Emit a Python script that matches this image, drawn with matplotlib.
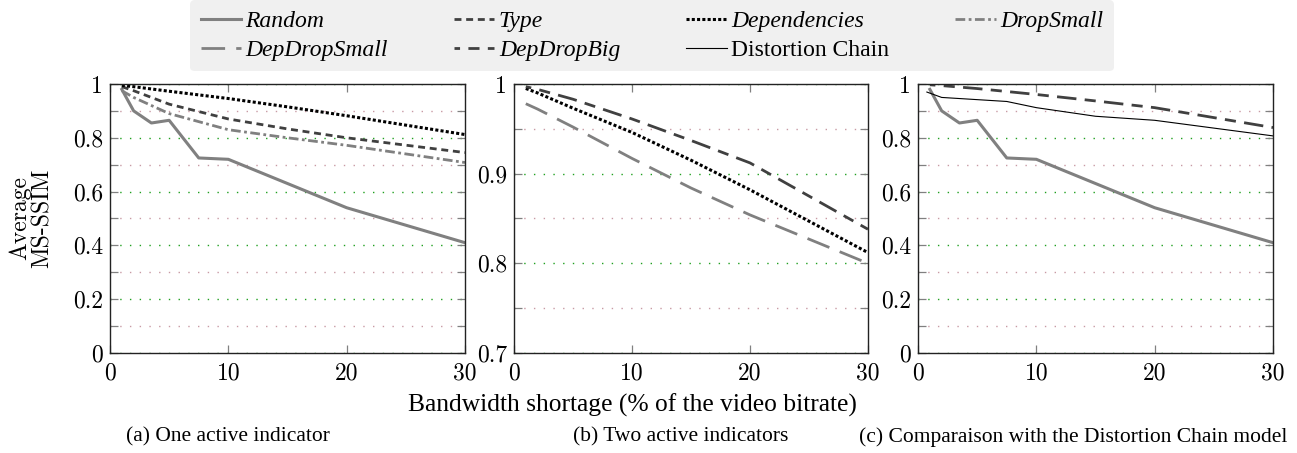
import matplotlib
matplotlib.use('Agg')
from matplotlib import pyplot as plt

plt.rcParams['lines.scale_dashes'] = False

# data
x_random = [1, 2, 3.5, 5, 7.5, 10, 15, 20, 30]
random_ssim = [0.98, 0.90, 0.855, 0.865, 0.725, 0.72, 0.63, 0.54, 0.41]

x_ind = [1, 2, 5, 10, 15, 20, 30]
type_ssim = [0.99, 0.975, 0.925, 0.87, 0.833, 0.80, 0.745]
dep_ssim = [0.995, 0.99, 0.973, 0.946, 0.915, 0.882, 0.812]
dropsmall_ssim = [0.975, 0.95, 0.89, 0.83, 0.80, 0.772, 0.708]
depdropsmall_ssim = [0.978, 0.972, 0.952, 0.917, 0.884, 0.854, 0.800]
depdropbig_ssim = [0.997, 0.994, 0.983, 0.961, 0.937, 0.912, 0.838]

x_dc = [0.75, 2, 7.5, 10, 15, 20, 30]
dc_ssim = [0.97, 0.95, 0.935, 0.912, 0.88, 0.865, 0.807]

xticks = [0, 10, 20, 30]
xtick_labels = ['0', '10', '20', '30']
yticks_full = [0, 0.2, 0.4, 0.6, 0.8, 1.0]
ytick_labels_full = ['0', '0.2', '0.4', '0.6', '0.8', '1']
yminor_full = [0.1, 0.3, 0.5, 0.7, 0.9]
yticks_zoom = [0.7, 0.8, 0.9, 1.0]
ytick_labels_zoom = ['0.7', '0.8', '0.9', '1']
yminor_zoom = [0.75, 0.85, 0.95]

captions = ['(a) One active indicator', '(b) Two active indicators',
            '(c) Comparaison with the Distortion Chain model']

# line styles
gray = '#808080'
dark = '#404040'
st_random = dict(color=gray, lw=2.2, ls='-')
st_type = dict(color=dark, lw=2.0, ls=(0, (5, 3.4)))
st_dep = dict(color='black', lw=2.2, ls=(0, (2.2, 1.6)))
st_dropsmall = dict(color=gray, lw=2.0, ls=(0, (7, 2.5, 2, 2.5)))
st_depdropsmall = dict(color=gray, lw=2.0, ls=(0, (17, 8)))
st_depdropbig = dict(color=dark, lw=2.0, ls=(10, (14, 6, 8, 6)))
st_dc = dict(color='black', lw=0.8, ls='-')

fig = plt.figure(figsize=(12.97, 4.53), dpi=100)
bottom, height = 0.2208, 0.5938
ax_a = fig.add_axes([0.0848, bottom, 0.2737, height])
ax_b = fig.add_axes([0.3963, bottom, 0.2729, height])
ax_c = fig.add_axes([0.7078, bottom, 0.2737, height])


def style_axis(ax, yt, ylab, ymin_t):
    ax.set_xlim(0, 30)
    ax.set_ylim(yt[0], yt[-1])
    ax.set_xticks(xticks, xtick_labels, fontfamily='cmr10', fontsize=17)
    ax.set_yticks(yt, ylab, fontfamily='cmr10', fontsize=17)
    ax.set_yticks(ymin_t, minor=True)
    ax.set_axisbelow(True)
    ax.grid(which='major', axis='y', color='#20a020', lw=1.0, ls=(0, (1.0, 6)))
    ax.grid(which='minor', axis='y', color='#c89aa4', lw=1.0, ls=(0, (1.0, 6)))
    ax.tick_params(which='both', direction='in', left=True, right=True,
                   top=True, bottom=True, color='#808080', length=6, width=0.9)
    ax.tick_params(axis='y', pad=5)
    ax.tick_params(axis='x', pad=7)
    for s in ax.spines.values():
        s.set_color('#222222')
        s.set_linewidth(1.0)


# (a)
l_random, = ax_a.plot(x_random, random_ssim, **st_random)
l_type, = ax_a.plot(x_ind, type_ssim, **st_type)
l_dep, = ax_a.plot(x_ind, dep_ssim, **st_dep)
l_dropsmall, = ax_a.plot(x_ind, dropsmall_ssim, **st_dropsmall)
style_axis(ax_a, yticks_full, ytick_labels_full, yminor_full)

# (b)
ax_b.plot(x_ind, dep_ssim, **st_dep)
l_depdropsmall, = ax_b.plot(x_ind, depdropsmall_ssim, **st_depdropsmall)
l_depdropbig, = ax_b.plot(x_ind, depdropbig_ssim, **st_depdropbig)
style_axis(ax_b, yticks_zoom, ytick_labels_zoom, yminor_zoom)

# (c)
ax_c.plot(x_random, random_ssim, **st_random)
ax_c.plot(x_ind, depdropbig_ssim, **st_depdropbig)
l_dc, = ax_c.plot(x_dc, dc_ssim, **st_dc)
style_axis(ax_c, yticks_full, ytick_labels_full, yminor_full)

fig.text(31 / 1297, 0.5 * (bottom * 2 + height), 'Average\nMS-SSIM', rotation=90,
         ha='center', va='center', multialignment='center',
         fontfamily='cmr10', fontsize=17, linespacing=1.0)
fig.text(632 / 1297, 0.106, 'Bandwidth shortage (% of the video bitrate)',
         ha='center', va='center', fontfamily='Liberation Serif', fontsize=18.4)

for xc, cap in zip([228, 681, 1073], captions):
    fig.text(xc / 1297, 0.035, cap, ha='center', va='center',
             fontfamily='Liberation Serif', fontsize=15.5)

handles = [l_random, l_depdropsmall, l_type, l_depdropbig, l_dep, l_dc, l_dropsmall]
labels = ['Random', 'DepDropSmall', 'Type', 'DepDropBig', 'Dependencies',
          'Distortion Chain', 'DropSmall']
leg = fig.legend(handles, labels, loc='upper center', bbox_to_anchor=(652 / 1297, 1.0),
                 ncol=4, frameon=True, fancybox=True, facecolor='#f0f0f0',
                 edgecolor='none', framealpha=1, borderaxespad=0,
                 prop={'family': 'Liberation Serif', 'size': 17},
                 handlelength=1.7, handletextpad=0.2, columnspacing=2.8,
                 borderpad=0.45, labelspacing=0.3)
for t in leg.get_texts():
    if t.get_text() != 'Distortion Chain':
        t.set_style('italic')

fig.savefig('out.png', dpi=100)
